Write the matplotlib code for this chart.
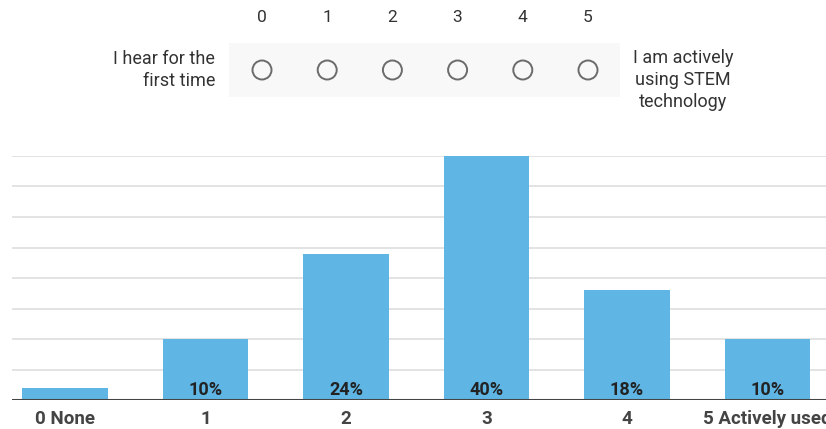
import numpy as np
import matplotlib.pyplot as plt
from matplotlib.patches import Rectangle, Circle

categories = ['0 None', '1', '2', '3', '4', '5 Actively used']
percent = [2, 10, 24, 40, 18, 10]
shown_labels = ['', '10%', '24%', '40%', '18%', '10%']

scale_points = [0, 1, 2, 3, 4, 5]
left_label = 'I hear for the\nfirst time'
right_label = 'I am actively\nusing STEM\ntechnology'

plt.rcParams['font.family'] = ['Roboto', 'DejaVu Sans']

W, H = 826, 429
fig = plt.figure(figsize=(W / 100, H / 100), dpi=100)

# bar chart (axes runs past the right edge, like the cropped screenshot)
step = 140.5
x_left = 12
xmin = -0.377
ax = fig.add_axes([x_left / W, 29 / H, 830 / W, 244 / H])
x = np.arange(len(categories))
bars = ax.bar(x, percent, width=0.61, color='#5fb6e5', zorder=2)
ax.set_xlim(xmin, xmin + 830 / step)
ax.set_ylim(0, 40)
ax.set_yticks(np.arange(0, 41, 5))
ax.yaxis.grid(True, color='#dedede', linewidth=1.2, zorder=0)
ax.tick_params(axis='y', left=False, labelleft=False)
ax.tick_params(axis='x', length=0, pad=7.5)
ax.set_xticks(x)
ax.set_xticklabels(categories, fontsize=13.5, fontweight='bold', color='#444444')
for s in ax.spines.values():
    s.set_visible(False)
ax.axhline(0, color='#444444', linewidth=2.2, zorder=3)
for b, lab in zip(bars, shown_labels):
    ax.annotate(lab, (b.get_x() + b.get_width() / 2, 0), xytext=(0, 3.8),
                textcoords='offset points', ha='center', va='baseline',
                fontsize=13, fontweight='bold', color='#222222', zorder=4)

# linear scale widget on top, in pixel coordinates
top = fig.add_axes([0, 0, 1, 1])
top.set_xlim(0, W)
top.set_ylim(H, 0)
top.axis('off')
top.patch.set_alpha(0)
top.add_patch(Rectangle((229, 43), 391, 54, facecolor='#f8f8f8', edgecolor='none'))
for p in scale_points:
    cx = 262 + p * 65.2
    top.text(cx, 17, str(p), ha='center', va='center', fontsize=12.5, color='#333333')
    top.add_patch(Circle((cx, 70), 9.5, facecolor='none', edgecolor='#6b6b6b', linewidth=1.4))
top.text(215, 70, left_label, ha='right', va='center', fontsize=13,
         color='#333333', linespacing=1.35)
top.text(683, 80, right_label, ha='center', va='center', fontsize=13,
         color='#333333', linespacing=1.32)

fig.savefig('out.png', dpi=100)
